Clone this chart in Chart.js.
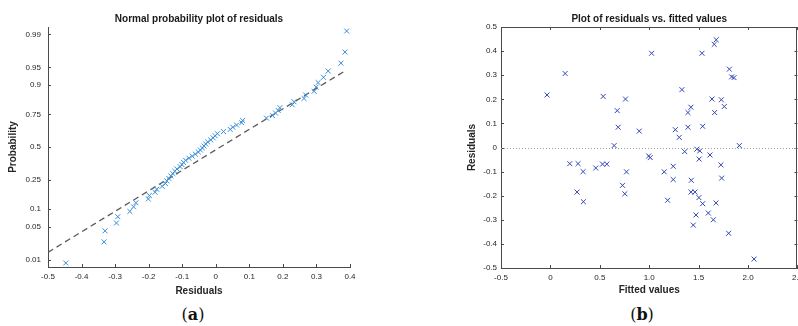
<!DOCTYPE html>
<html>
<head>
<meta charset="utf-8">
<script src="https://cdn.jsdelivr.net/npm/chart.js@4"></script>
<style>
  body { margin: 0; background: #fff; width: 798px; height: 326px; overflow: hidden; position: relative; }
  canvas { position: absolute; top: 0; }
  .cap { position: absolute; top: 305px; height: 22px; line-height: 22px; font: 16px "DejaVu Serif", serif; color: #111; width: 60px; text-align: center; }
</style>
</head>
<body>
<canvas id="left" width="400" height="300" style="left:0"></canvas>
<!-- wider than the page on purpose: the plot box ends at the page edge and the last tick label is cut, as in the original -->
<canvas id="right" width="408" height="300" style="left:400px"></canvas>
<div class="cap" style="left:163px">(<b>a</b>)</div>
<div class="cap" style="left:612px">(<b>b</b>)</div>
<script>
// (a) normal probability plot: sorted residuals and their plotting probabilities
const sortedResiduals = [
  -0.447, -0.333, -0.330, -0.296, -0.292, -0.256, -0.245, -0.238, -0.201, -0.198,
  -0.181, -0.176, -0.160, -0.150, -0.146, -0.140, -0.134, -0.128, -0.122, -0.116,
  -0.106, -0.101, -0.096, -0.090, -0.080, -0.070, -0.061, -0.052, -0.046, -0.040,
  -0.035, -0.030, -0.024, -0.015, -0.008, -0.002, 0.005, 0.023, 0.043, 0.051,
  0.062, 0.077, 0.080, 0.151, 0.169, 0.178, 0.186, 0.191, 0.228, 0.233,
  0.263, 0.268, 0.293, 0.299, 0.305, 0.321, 0.335, 0.373, 0.385, 0.390
];
const probabilities = [
  0.0083, 0.0250, 0.0417, 0.0583, 0.0750, 0.0917, 0.1083, 0.1250, 0.1417, 0.1583,
  0.1750, 0.1917, 0.2083, 0.2250, 0.2417, 0.2583, 0.2750, 0.2917, 0.3083, 0.3250,
  0.3417, 0.3583, 0.3750, 0.3917, 0.4083, 0.4250, 0.4417, 0.4583, 0.4750, 0.4917,
  0.5083, 0.5250, 0.5417, 0.5583, 0.5750, 0.5917, 0.6083, 0.6250, 0.6417, 0.6583,
  0.6750, 0.6917, 0.7083, 0.7250, 0.7417, 0.7583, 0.7750, 0.7917, 0.8083, 0.8250,
  0.8417, 0.8583, 0.8750, 0.8917, 0.9083, 0.9250, 0.9417, 0.9583, 0.9750, 0.9917
];
const refLineX = [-0.5, 0.39];
const refLineP = [0.0148, 0.9444];
const probTicks = [0.01, 0.05, 0.1, 0.25, 0.5, 0.75, 0.9, 0.95, 0.99];
const probTickLabels = ['0.01', '0.05', '0.1', '0.25', '0.5', '0.75', '0.9', '0.95', '0.99'];
const probLimits = [0.0066, 0.9934];

// (b) residuals vs fitted values
const fittedValues = [
  -0.034, 0.149, 0.534, 0.676, 0.760, 0.686, 0.645, 0.899, 1.024, 0.995,
  1.010, 1.331, 1.264, 1.304, 1.359, 1.422, 1.392, 1.392, 1.534, 1.541,
  1.482, 1.512, 1.505, 1.615, 1.658, 1.678, 1.635, 1.662, 1.730, 1.760,
  1.811, 1.834, 1.858, 1.912, 0.196, 0.280, 0.331, 0.270, 0.334, 0.459,
  0.527, 0.571, 0.730, 0.753, 0.770, 1.152, 1.186, 1.243, 1.243, 1.426,
  1.422, 1.463, 1.503, 1.541, 1.473, 1.446, 1.598, 1.649, 1.676, 1.726,
  1.733, 1.804, 2.061
];
const residuals = [
  0.218, 0.307, 0.212, 0.153, 0.201, 0.084, 0.008, 0.068, 0.391, -0.035,
  -0.042, 0.240, 0.074, 0.042, -0.017, 0.167, 0.145, 0.084, 0.391, 0.088,
  -0.007, -0.014, -0.048, -0.031, 0.428, 0.447, 0.201, 0.145, 0.198, 0.170,
  0.325, 0.293, 0.290, 0.008, -0.067, -0.067, -0.100, -0.185, -0.225, -0.085,
  -0.069, -0.069, -0.157, -0.192, -0.101, -0.101, -0.219, -0.078, -0.133, -0.136,
  -0.185, -0.185, -0.208, -0.233, -0.280, -0.322, -0.272, -0.300, -0.230, -0.072,
  -0.127, -0.356, -0.463
];
const zeroLevel = 0;

// inverse normal CDF (Acklam) for the probability axis
function probit(p) {
  const a = [-39.69683028665376, 220.9460984245205, -275.9285104469687, 138.3577518672690, -30.66479806614716, 2.506628277459239];
  const b = [-54.47609879822406, 161.5858368580409, -155.6989798598866, 66.80131188771972, -13.28068155211639];
  const c = [-0.007784894002430293, -0.3223964580411365, -2.400758277161838, -2.549732539343734, 4.374664141464968, 2.938163982698783];
  const d = [0.007784695709041462, 0.3224671290700398, 2.445134137142996, 3.754408661907416];
  const pl = 0.02425;
  let q, r;
  if (p < pl) {
    q = Math.sqrt(-2 * Math.log(p));
    return (((((c[0]*q+c[1])*q+c[2])*q+c[3])*q+c[4])*q+c[5]) / ((((d[0]*q+d[1])*q+d[2])*q+d[3])*q+1);
  }
  if (p > 1 - pl) {
    q = Math.sqrt(-2 * Math.log(1 - p));
    return -(((((c[0]*q+c[1])*q+c[2])*q+c[3])*q+c[4])*q+c[5]) / ((((d[0]*q+d[1])*q+d[2])*q+d[3])*q+1);
  }
  q = p - 0.5; r = q * q;
  return (((((a[0]*r+a[1])*r+a[2])*r+a[3])*r+a[4])*r+a[5])*q / (((((b[0]*r+b[1])*r+b[2])*r+b[3])*r+b[4])*r+1);
}

Chart.defaults.font.family = '"Liberation Sans", Arial, sans-serif';
Chart.defaults.font.size = 8;
Chart.defaults.color = '#262626';

const axisColor = '#4a4a4a';

// MATLAB style ticks pointing into the plot, plus optional box and zero line
const innerTicks = {
  id: 'innerTicks',
  afterDraw(chart, args, opts) {
    const { ctx, chartArea: a, scales: { x, y } } = chart;
    ctx.save();
    ctx.strokeStyle = axisColor;
    ctx.lineWidth = 1;
    ctx.beginPath();
    x.ticks.forEach(t => {
      const px = Math.round(x.getPixelForValue(t.value)) + 0.5;
      ctx.moveTo(px, a.bottom); ctx.lineTo(px, a.bottom - 3);
      if (opts.box) { ctx.moveTo(px, a.top); ctx.lineTo(px, a.top + 3); }
    });
    y.ticks.forEach(t => {
      const py = Math.round(y.getPixelForValue(t.value)) + 0.5;
      ctx.moveTo(a.left, py); ctx.lineTo(a.left + 3, py);
      if (opts.box) { ctx.moveTo(a.right, py); ctx.lineTo(a.right - 3, py); }
    });
    if (opts.box) {
      ctx.moveTo(a.left, Math.round(a.top) + 0.5); ctx.lineTo(a.right, Math.round(a.top) + 0.5);
      ctx.moveTo(Math.round(a.right) - 0.5, a.top); ctx.lineTo(Math.round(a.right) - 0.5, a.bottom);
    }
    ctx.stroke();
    if (opts.zeroLine) {
      const py = Math.round(y.getPixelForValue(zeroLevel)) + 0.5;
      ctx.strokeStyle = '#9a9a9a';
      ctx.setLineDash([1, 2]);
      ctx.beginPath();
      ctx.moveTo(a.left, py); ctx.lineTo(a.right, py);
      ctx.stroke();
    }
    ctx.restore();
  }
};

function titleOpts(text) {
  return { display: true, text, fullSize: false, color: '#1a1a1a',
    font: { size: 10, weight: 'bold' }, padding: { top: 13, bottom: 2 } };
}

new Chart(document.getElementById('left'), {
  type: 'scatter',
  data: {
    datasets: [{
      data: sortedResiduals.map((r, i) => ({ x: r, y: probit(probabilities[i]) })),
      pointStyle: 'crossRot',
      pointRadius: 3.5,
      borderWidth: 1,
      borderColor: 'rgb(55,140,215)',
      backgroundColor: 'rgb(55,140,215)'
    }, {
      type: 'line',
      data: refLineX.map((r, i) => ({ x: r, y: probit(refLineP[i]) })),
      borderColor: '#5a5a5a',
      borderWidth: 1.3,
      borderDash: [6, 4],
      pointRadius: 0
    }]
  },
  options: {
    responsive: false,
    animation: false,
    devicePixelRatio: 1,
    layout: { padding: { left: 0, right: 50, top: 0, bottom: 0 } },
    plugins: {
      legend: { display: false },
      tooltip: { enabled: false },
      title: titleOpts('Normal probability plot of residuals'),
      innerTicks: { box: false }
    },
    scales: {
      x: {
        type: 'linear', min: -0.5, max: 0.4,
        ticks: { stepSize: 0.1, padding: 5 },
        grid: { drawOnChartArea: false, drawTicks: false },
        border: { color: axisColor },
        title: { display: true, text: 'Residuals', font: { size: 10, weight: 'bold' }, padding: { top: 0, bottom: 3 } },
        afterFit: s => { s.height = 33; }
      },
      y: {
        type: 'linear', min: probit(probLimits[0]), max: probit(probLimits[1]),
        afterBuildTicks: s => { s.ticks = probTicks.map(p => ({ value: probit(p) })); },
        ticks: { padding: 7, callback: (v, i) => probTickLabels[i] },
        grid: { drawOnChartArea: false, drawTicks: false },
        border: { color: axisColor },
        title: { display: true, text: 'Probability', font: { size: 10, weight: 'bold' }, padding: { top: 7, bottom: 0 } },
        afterFit: s => { s.width = 48; }
      }
    }
  },
  plugins: [innerTicks]
});

new Chart(document.getElementById('right'), {
  type: 'scatter',
  data: {
    datasets: [{
      data: fittedValues.map((f, i) => ({ x: f, y: residuals[i] })),
      pointStyle: 'crossRot',
      pointRadius: 3.5,
      borderWidth: 1,
      borderColor: 'rgb(50,70,185)',
      backgroundColor: 'rgb(50,70,185)'
    }]
  },
  options: {
    responsive: false,
    animation: false,
    devicePixelRatio: 1,
    layout: { padding: { left: 0, right: 0, top: 0, bottom: 0 } },
    plugins: {
      legend: { display: false },
      tooltip: { enabled: false },
      title: titleOpts('Plot of residuals vs. fitted values'),
      innerTicks: { box: true, zeroLine: true }
    },
    scales: {
      x: {
        type: 'linear', min: -0.5, max: 2.5,
        ticks: { stepSize: 0.5, padding: 5 },
        grid: { drawOnChartArea: false, drawTicks: false },
        border: { color: axisColor },
        title: { display: true, text: 'Fitted values', font: { size: 10, weight: 'bold' }, padding: { top: 0, bottom: 4 } },
        afterFit: s => { s.height = 32; }
      },
      y: {
        type: 'linear', min: -0.5, max: 0.5,
        ticks: { stepSize: 0.1, padding: 4 },
        grid: { drawOnChartArea: false, drawTicks: false },
        border: { color: axisColor },
        title: { display: true, text: 'Residuals', font: { size: 10, weight: 'bold' }, padding: { top: 66, bottom: 0 } },
        afterFit: s => { s.width = 101; }
      }
    }
  },
  plugins: [innerTicks]
});
</script>
</body>
</html>
